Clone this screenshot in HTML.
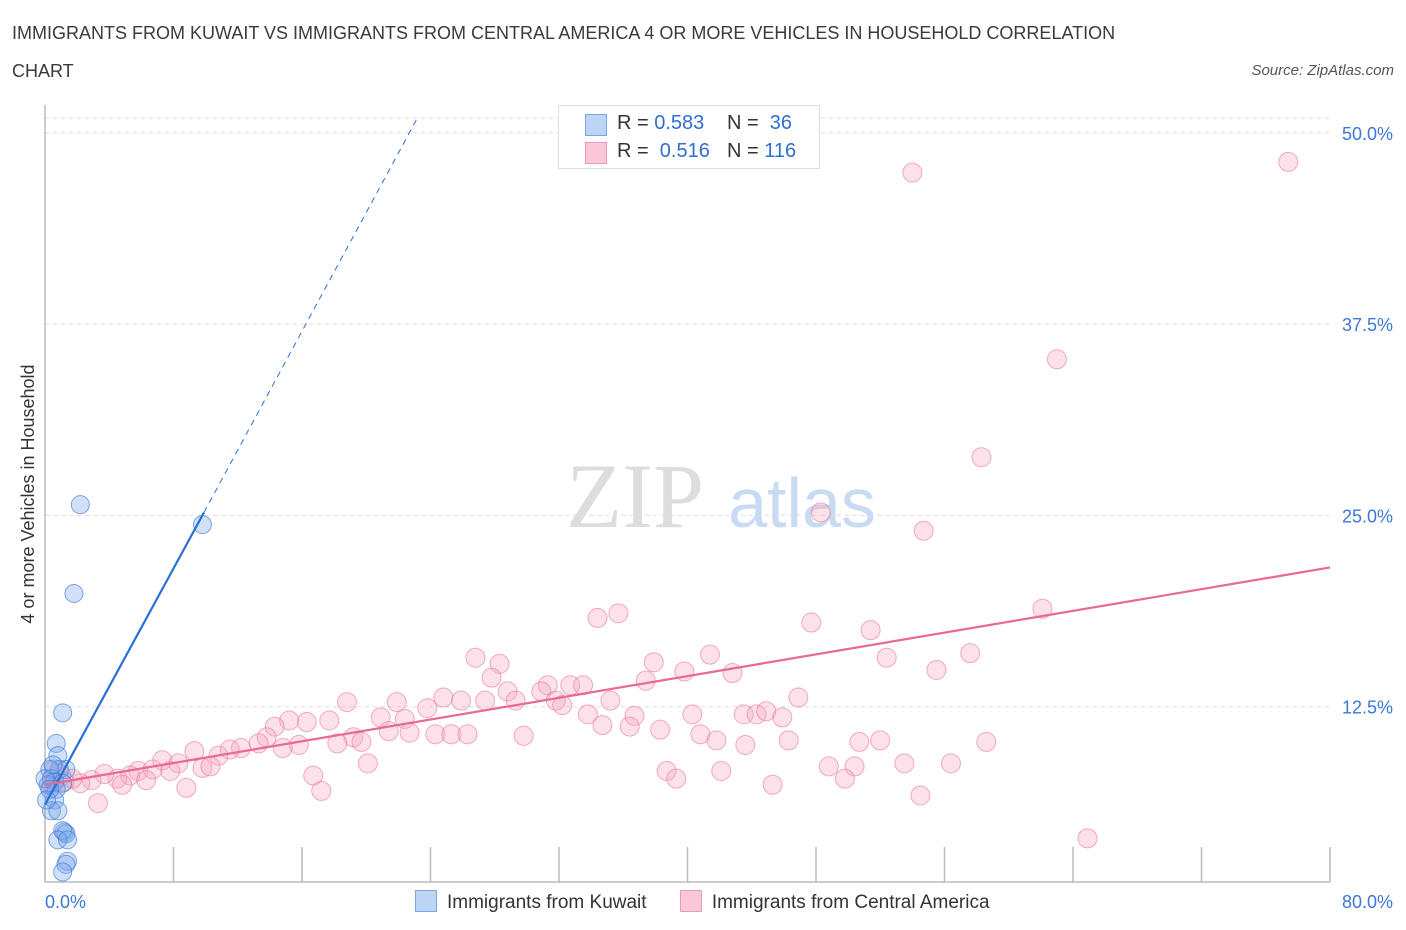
<!DOCTYPE html>
<html><head><meta charset="utf-8">
<style>
body{margin:0;background:#fff;font-family:"Liberation Sans",sans-serif;}
#wrap{position:relative;width:1406px;height:930px;overflow:hidden;}
.t{position:absolute;color:#333;}
</style></head>
<body>
<div id="wrap">
<div class="t" style="left:12px;top:14px;font-size:18px;line-height:38px;width:1160px;color:#3a3a3a">IMMIGRANTS FROM KUWAIT VS IMMIGRANTS FROM CENTRAL AMERICA 4 OR MORE VEHICLES IN HOUSEHOLD CORRELATION CHART</div>
<div class="t" style="right:12px;top:62px;font-size:15px;font-style:italic;color:#555">Source: ZipAtlas.com</div>
<svg id="chart" width="1406" height="930" style="position:absolute;left:0;top:0"></svg>
</div>
<script>
const xTicks=[0,8,16,24,32,40,48,56,64,72,80];
const yTicks=[12.5,25,37.5,50];
const yTickLabels=["12.5%","25.0%","37.5%","50.0%"];
const kuwaitX=[2.2,9.8,1.8,1.1,0.7,0.8,0.9,1.3,0.3,0.4,0.6,1.1,0.2,0.7,0.6,0.4,0.8,1.2,1.3,1.1,0.8,1.4,1.4,1.3,1.1,0,0.3,0.1,0.5];
const kuwaitY=[25.7,24.4,19.9,12.1,10.1,9.3,8.4,8.4,8.4,7.8,7.6,7.5,7.4,7.1,6.4,5.7,5.7,4.3,4.2,4.4,3.8,3.8,2.4,2.2,1.7,7.8,7.1,6.4,8.7];
const camX=[54.0,77.4,63.0,58.3,48.3,54.7,62.1,34.4,35.7,47.7,51.4,26.8,28.3,37.9,41.4,52.4,57.6,55.5,39.8,42.8,27.8,31.3,32.7,33.5,37.4,30.9,28.8,29.3,24.8,25.9,27.4,18.8,21.9,31.8,32.2,35.2,46.9,23.8,20.9,22.4,33.8,36.7,40.3,43.5,44.3,44.9,45.9,17.7,16.3,15.2,14.3,13.8,34.7,36.4,38.3,22.7,21.4,24.3,25.3,26.3,29.8,40.8,41.8,46.3,52.0,50.7,58.6,43.6,19.2,19.7,18.2,15.8,14.8,13.3,12.2,11.5,10.8,9.3,7.3,8.3,9.8,10.3,20.1,48.8,50.4,53.5,56.4,38.7,42.1,39.3,49.8,16.7,5.8,6.7,7.8,5.3,6.3,4.5,3.7,2.9,2.2,1.7,4.8,45.3,8.8,17.2,54.5,3.3,64.9,0.9,1.2,0.6,0.4];
const camY=[47.4,48.1,35.2,28.8,25.2,24.0,18.9,18.3,18.6,18.0,17.5,15.7,15.3,15.4,15.9,15.7,16.0,14.9,14.8,14.7,14.4,13.9,13.9,13.9,14.2,13.5,13.5,12.9,13.1,12.9,12.9,12.8,12.8,12.9,12.6,12.9,13.1,12.4,11.8,11.7,12.0,11.9,12.0,12.0,12.0,12.2,11.8,11.6,11.5,11.6,11.2,10.5,11.3,11.2,11.0,10.8,10.9,10.7,10.7,10.7,10.6,10.7,10.3,10.3,10.3,10.2,10.2,10.0,10.5,10.2,10.1,10.0,9.8,10.1,9.8,9.7,9.3,9.6,9.0,8.8,8.5,8.6,8.8,8.6,8.6,8.8,8.8,8.3,8.3,7.8,7.8,8.0,8.3,8.4,8.3,8.0,7.7,7.8,8.1,7.7,7.5,7.8,7.4,7.4,7.2,7.0,6.7,6.2,3.9,8.0,7.6,8.4,7.4];
const kuwaitTrend=[[0,6.1],[9.9,25.2]];
const kuwaitDash=[[9.9,25.2],[23.2,51.0]];
const camTrend=[[0,7.4],[80,21.6]];

const NS="http://www.w3.org/2000/svg";
const svg=document.getElementById('chart');
const X0=45,X1=1330,Y0=898,PXY=191.3/12.5;
const sx=v=>X0+(v/80)*(X1-X0);
const sy=v=>Y0-v*PXY;
function mk(tag,attrs){const e=document.createElementNS(NS,tag);for(const k in attrs)e.setAttribute(k,attrs[k]);svg.appendChild(e);return e;}
for(let i=0;i<yTicks.length;i++){
  const g=mk('line',{x1:X0,x2:1330,y1:sy(yTicks[i]),y2:sy(yTicks[i]),stroke:'#ddd','stroke-dasharray':'4,4'});
  
  
  const t=mk('text',{x:1393,y:sy(yTicks[i])+7,'text-anchor':'end','font-size':18,fill:'#3b78d8','font-family':'Liberation Sans, sans-serif'});
  t.textContent=yTickLabels[i];
  
  
}
const topg=mk('line',{x1:X0,x2:1330,y1:118,y2:118,stroke:'#ddd','stroke-dasharray':'4,4'});


const ya=mk('line',{x1:X0,x2:X0,y1:105,y2:882,stroke:'#bbb','stroke-width':1.5});


const xa=mk('line',{x1:X0,x2:1330,y1:882,y2:882,stroke:'#bbb','stroke-width':1.5});


for(const v of xTicks){
  const tk=mk('line',{x1:sx(v),x2:sx(v),y1:847,y2:882,stroke:'#bbb','stroke-width':1.5});
  
  
}
const xl0=mk('text',{x:45,y:908,'font-size':18,fill:'#3b78d8','font-family':'Liberation Sans, sans-serif'});xl0.textContent='0.0%';


const xl1=mk('text',{x:1393,y:908,'text-anchor':'end','font-size':18,fill:'#3b78d8','font-family':'Liberation Sans, sans-serif'});xl1.textContent='80.0%';


const yt=mk('text',{x:34,y:494,'text-anchor':'middle','font-size':18,fill:'#333',transform:'rotate(-90 34 494)','font-family':'Liberation Sans, sans-serif'});yt.textContent='4 or more Vehicles in Household';


const w1=mk('text',{x:635,y:527,'text-anchor':'middle','font-size':92,fill:'#ddd','font-family':'Liberation Serif, serif'});w1.textContent='ZIP';


const w2=mk('text',{x:802,y:527,'text-anchor':'middle','font-size':70,fill:'#c9daf3','font-family':'Liberation Sans, sans-serif'});w2.textContent='atlas';


for(let i=0;i<camX.length;i++){
  const r=(i===109)?11:9.5;
  const c=mk('circle',{cx:sx(camX[i]),cy:sy(camY[i]),r:r,fill:'rgba(247,170,192,0.35)',stroke:'rgba(232,120,155,0.6)','stroke-width':1});
  
  
}
for(let i=0;i<kuwaitX.length;i++){
  const c=mk('circle',{cx:sx(kuwaitX[i]),cy:sy(kuwaitY[i]),r:9,fill:'rgba(120,165,235,0.35)',stroke:'rgba(60,120,215,0.65)','stroke-width':1});
  
  
}
const l1=mk('line',{x1:sx(kuwaitTrend[0][0]),y1:sy(kuwaitTrend[0][1]),x2:sx(kuwaitTrend[1][0]),y2:sy(kuwaitTrend[1][1]),stroke:'#2a6fd6','stroke-width':2.2});


const l2=mk('line',{x1:sx(kuwaitDash[0][0]),y1:sy(kuwaitDash[0][1]),x2:sx(kuwaitDash[1][0]),y2:sy(kuwaitDash[1][1]),stroke:'#2a6fd6','stroke-width':1,'stroke-dasharray':'6,5'});


const l3=mk('line',{x1:sx(camTrend[0][0]),y1:sy(camTrend[0][1]),x2:sx(camTrend[1][0]),y2:sy(camTrend[1][1]),stroke:'#e86a93','stroke-width':2.2});


</script>
<div style="position:absolute;left:558px;top:105px;width:260px;height:62px;border:1px solid #ddd;background:#fff;font-size:20px;color:#333">
 <div style="position:absolute;left:26px;top:8px;width:20px;height:20px;background:#bcd4f5;border:1px solid #7aa6e6"></div>
 <div style="position:absolute;left:58px;top:6px;">R = <span style="color:#2f6fd0">0.583</span></div>
 <div style="position:absolute;left:168px;top:6px;">N = &nbsp;<span style="color:#2f6fd0">36</span></div>
 <div style="position:absolute;left:26px;top:36px;width:20px;height:20px;background:#f9c7d5;border:1px solid #eb9bb4"></div>
 <div style="position:absolute;left:58px;top:34px;">R = &nbsp;<span style="color:#2f6fd0">0.516</span></div>
 <div style="position:absolute;left:168px;top:34px;">N = <span style="color:#2f6fd0">116</span></div>
</div>
<div style="position:absolute;left:415px;top:890px;font-size:19px;color:#333;white-space:nowrap">
 <span style="display:inline-block;"><span style="display:inline-block;width:20px;height:20px;background:#bcd4f5;border:1px solid #7aa6e6;vertical-align:-4px;margin-right:10px"></span>Immigrants from Kuwait</span>
 <span style="display:inline-block;margin-left:28px"><span style="display:inline-block;width:20px;height:20px;background:#f9c7d5;border:1px solid #eb9bb4;vertical-align:-4px;margin-right:10px"></span>Immigrants from Central America</span>
</div>
</body></html>
